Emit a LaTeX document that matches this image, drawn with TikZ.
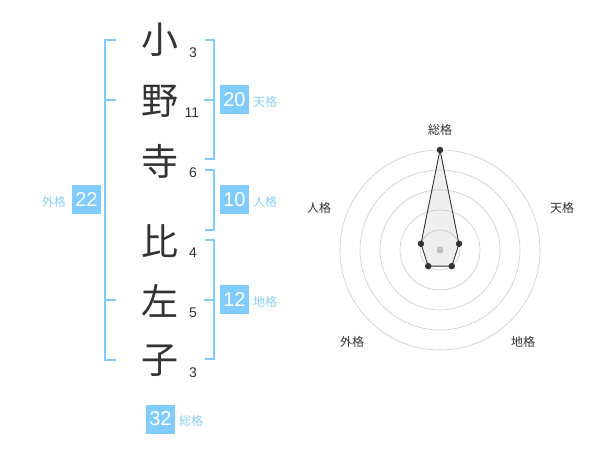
\documentclass[tikz,border=0pt]{standalone}
\usepackage{fontspec}
\setmainfont{Liberation Sans}
\newfontfamily\jp{Noto Sans CJK JP}
\begin{document}
\begin{tikzpicture}[x=1pt,y=-1pt,
  kanji/.style={font=\jp\fontsize{37}{37}\selectfont, text=ink, inner sep=0pt},
  stroke/.style={font=\fontsize{14}{14}\selectfont, text=ink, inner sep=0pt},
  brk/.style={draw=sky, line width=1.8pt},
  valbox/.style={fill=sky, text=white, minimum width=29pt, minimum height=29pt, inner sep=0pt, font=\fontsize{20}{20}\selectfont},
  lbl/.style={text=skytext, inner sep=0pt, font=\jp\fontsize{12}{12}\selectfont},
  rlbl/.style={text=ink, inner sep=0pt, font=\jp\fontsize{12}{12}\selectfont},
  ring/.style={draw=ringc, line width=0.6pt},
  dot/.style={circle, fill=ink, inner sep=0pt, minimum size=6.5pt}]
\definecolor{ink}{HTML}{333333}
\definecolor{sky}{HTML}{80CCFF}
\definecolor{skytext}{HTML}{8CCFF5}
\definecolor{ringc}{HTML}{CCCCCC}
\useasboundingbox (0,0) rectangle (600,470);
% characters
\node[kanji] (c1) at (160,40) {小};
\node[kanji] (c2) at (160,101) {野};
\node[kanji] (c3) at (160,161) {寺};
\node[kanji] (c4) at (160,241) {比};
\node[kanji] (c5) at (160,301) {左};
\node[kanji] (c6) at (160,361) {子};
\node[stroke] (n1) at (193,53) {3};
\node[stroke] (n2) at (192,113) {11};
\node[stroke] (n3) at (193,173) {6};
\node[stroke] (n4) at (193,253) {4};
\node[stroke] (n5) at (193,313) {5};
\node[stroke] (n6) at (193,373) {3};
% outer bracket
\draw[brk] (116,40) -- (105,40) -- (105,360) -- (116,360);
\draw[brk] (105,100) -- (116,100);
\draw[brk] (105,300) -- (116,300);
% right brackets
\draw[brk] (205,40) -- (214,40) -- (214,159) -- (205,159);
\draw[brk] (204,100) -- (214,100);
\draw[brk] (205,170) -- (214,170) -- (214,230) -- (205,230);
\draw[brk] (205,240) -- (214,240) -- (214,359) -- (205,359);
\draw[brk] (204,300) -- (214,300);
% value boxes
\node[valbox] (b22) at (86.5,200) {22};
\node[lbl, anchor=east] (l22) at (66,202) {外格};
\node[valbox] (b20) at (234.5,100) {20};
\node[lbl, anchor=west] (l20) at (253,102) {天格};
\node[valbox] (b10) at (234.5,200) {10};
\node[lbl, anchor=west] (l10) at (253,202) {人格};
\node[valbox] (b12) at (234.5,300) {12};
\node[lbl, anchor=west] (l12) at (253,302) {地格};
\node[valbox] (b32) at (160.5,419) {32};
\node[lbl, anchor=west] (l32) at (179,421) {総格};
% radar
\coordinate (ctr) at (440,250);
\foreach \r in {20,40,60,80,100} \draw[ring] (ctr) circle[radius=\r];
\fill[ringc] (ctr) circle[radius=3.5];
\coordinate (pS) at (440,150);
\coordinate (pT) at (459.02,243.82);
\coordinate (pC) at (451.76,266.18);
\coordinate (pG) at (428.24,266.18);
\coordinate (pJ) at (420.98,243.82);
\draw[draw=ink, fill=ink, fill opacity=0.08, line width=0.9pt] (pS) -- (pT) -- (pC) -- (pG) -- (pJ) -- cycle;
\foreach \p in {pS,pT,pC,pG,pJ} \node[dot] at (\p) {};
\node[rlbl] (rS) at (440,130) {総格};
\node[rlbl] (rT) at (562,208) {天格};
\node[rlbl] (rJ) at (319,208) {人格};
\node[rlbl] (rG) at (352,342) {外格};
\node[rlbl] (rC) at (523,342) {地格};
\end{tikzpicture}
\end{document}
